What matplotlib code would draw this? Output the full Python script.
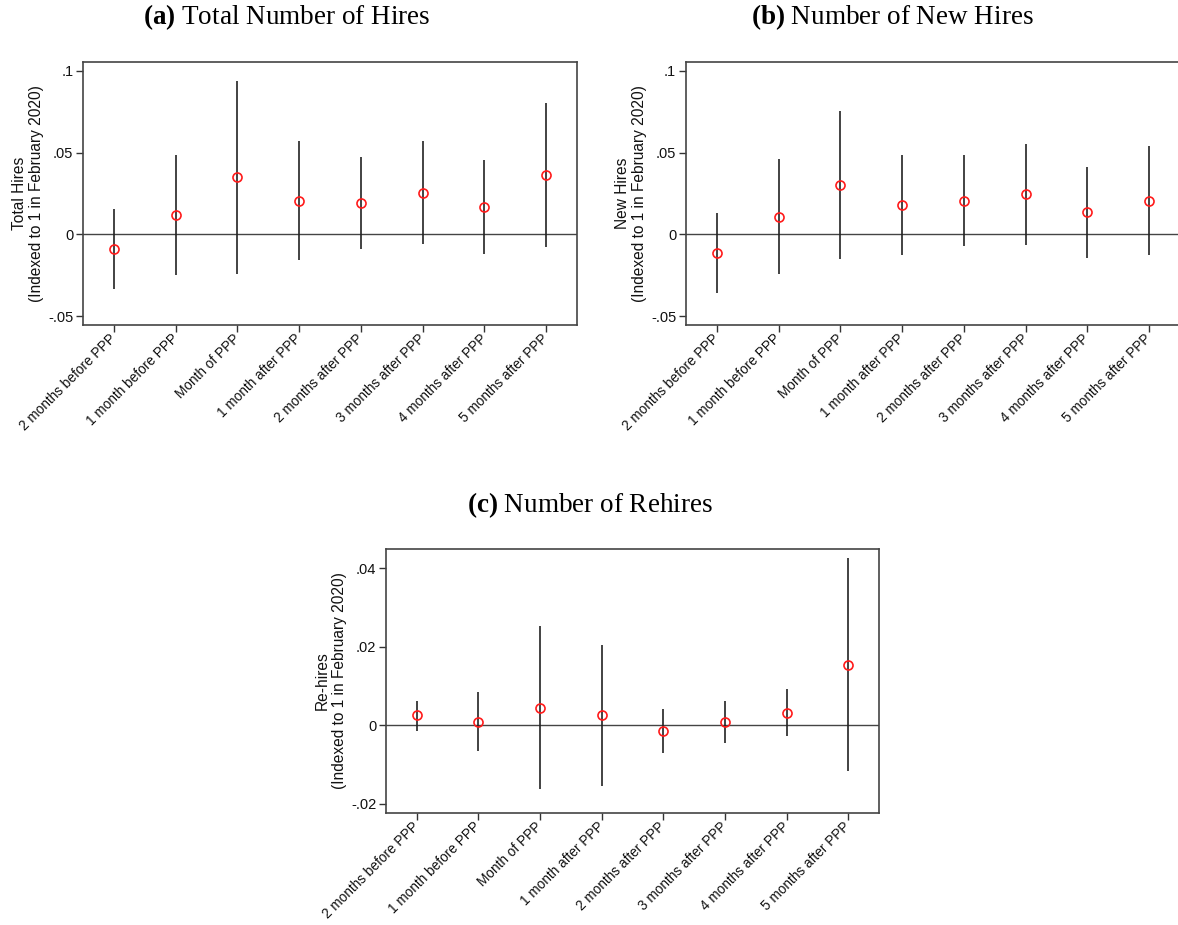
import matplotlib
matplotlib.use("Agg")
import matplotlib.pyplot as plt
from matplotlib.ticker import FuncFormatter

plt.rcParams["font.family"] = ["Liberation Sans", "DejaVu Sans"]
plt.rcParams["mathtext.fontset"] = "custom"
plt.rcParams["mathtext.rm"] = "Liberation Serif"
plt.rcParams["mathtext.bf"] = "Liberation Serif:bold"

periods = [
    "2 months before PPP",
    "1 month before PPP",
    "Month of PPP",
    "1 month after PPP",
    "2 months after PPP",
    "3 months after PPP",
    "4 months after PPP",
    "5 months after PPP",
]

# point estimates and 95% bounds
total_coef = [-0.0087, 0.0120, 0.0350, 0.0207, 0.0193, 0.0256, 0.0169, 0.0362]
total_hi = [0.0157, 0.0484, 0.0941, 0.0571, 0.0476, 0.0571, 0.0457, 0.0803]
total_lo = [-0.0333, -0.0246, -0.0242, -0.0157, -0.0089, -0.0061, -0.0122, -0.0077]

new_coef = [-0.0114, 0.0108, 0.0303, 0.0181, 0.0207, 0.0246, 0.0134, 0.0207]
new_hi = [0.0130, 0.0461, 0.0758, 0.0486, 0.0484, 0.0555, 0.0415, 0.0543]
new_lo = [-0.0356, -0.0244, -0.0150, -0.0124, -0.0069, -0.0063, -0.0146, -0.0128]

re_coef = [0.00255, 0.00085, 0.0045, 0.00255, -0.0015, 0.0008, 0.0032, 0.0154]
re_hi = [0.0063, 0.0084, 0.0254, 0.0205, 0.0041, 0.0062, 0.0092, 0.0426]
re_lo = [-0.00136, -0.0066, -0.0163, -0.0155, -0.0071, -0.0046, -0.0027, -0.0117]


def stata_fmt(v, pos):
    if abs(v) < 1e-12:
        return "0"
    s = ("%g" % v)
    return s.replace("0.", ".")


def coefplot(ax, coef, lo, hi, ylabel, yticks, ylim):
    x = list(range(1, len(coef) + 1))
    ax.axhline(0, color="#444444", lw=1.0, zorder=1)
    ax.vlines(x, lo, hi, color="#222222", lw=1.2, zorder=2)
    ax.plot(x, coef, "o", ms=6.5, mfc="none", mec="#ff1a1a", mew=1.2, zorder=3)
    ax.set_xlim(0.5, 8.5)
    ax.set_ylim(*ylim)
    ax.set_yticks(yticks)
    ax.yaxis.set_major_formatter(FuncFormatter(stata_fmt))
    ax.set_xticks(x)
    ax.set_xticklabels(periods, rotation=45, ha="right", va="center",
                       rotation_mode="anchor", fontsize=9.8)
    ax.tick_params(axis="both", direction="out", length=5, width=1,
                   color="#333333", labelcolor="#111111")
    ax.tick_params(axis="y", labelsize=10.5, pad=2)
    ax.tick_params(axis="x", pad=3)
    for sp in ax.spines.values():
        sp.set_color("#444444")
        sp.set_linewidth(1.2)
    ax.set_ylabel(ylabel, fontsize=11.2, color="#111111", linespacing=1.15,
                  labelpad=3)


fig = plt.figure(figsize=(11.78, 9.25), dpi=100)

ax_a = fig.add_axes([0.0705, 0.6486, 0.4194, 0.2844])
coefplot(ax_a, total_coef, total_lo, total_hi,
         "Total Hires\n(Indexed to 1 in February 2020)",
         [-0.05, 0, 0.05, 0.1], (-0.0555, 0.1055))

ax_b = fig.add_axes([0.5823, 0.6486, 0.4194, 0.2844])
coefplot(ax_b, new_coef, new_lo, new_hi,
         "New Hires\n(Indexed to 1 in February 2020)",
         [-0.05, 0, 0.05, 0.1], (-0.0555, 0.1055))

ax_c = fig.add_axes([0.3277, 0.1211, 0.4185, 0.2854])
coefplot(ax_c, re_coef, re_lo, re_hi,
         "Re-hires\n(Indexed to 1 in February 2020)",
         [-0.02, 0, 0.02, 0.04], (-0.0223, 0.0449))

title_kw = dict(ha="center", va="center", fontsize=19.5, family="Liberation Serif")
fig.text(287 / 1178, 1 - 17 / 925, r"$\mathbf{(a)}$ Total Number of Hires", **title_kw)
fig.text(892 / 1178, 1 - 17 / 925, r"$\mathbf{(b)}$ Number of New Hires", **title_kw)
fig.text(590 / 1178, 1 - 505 / 925, r"$\mathbf{(c)}$ Number of Rehires", **title_kw)

fig.savefig("out.png", dpi=100, facecolor="white")
